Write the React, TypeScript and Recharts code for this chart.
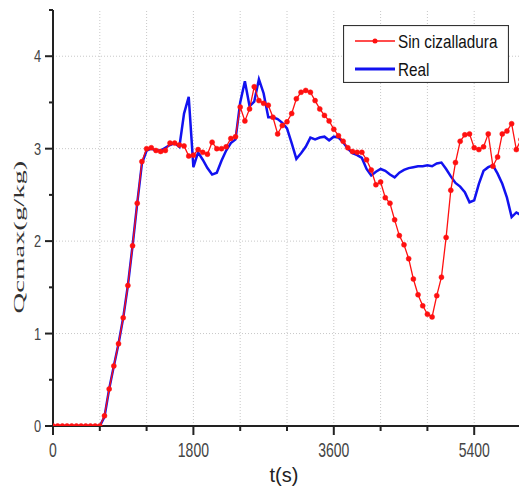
import React from 'react';
import { LineChart, Line, XAxis, YAxis, ReferenceLine, Legend } from 'recharts';

const times = [
  0, 60, 120, 180, 240, 300, 360, 420, 480, 540,
  600, 660, 720, 780, 840, 900, 960, 1020, 1080, 1140,
  1200, 1260, 1320, 1380, 1440, 1500, 1560, 1620, 1680, 1740,
  1800, 1860, 1920, 1980, 2040, 2100, 2160, 2220, 2280, 2340,
  2400, 2460, 2520, 2580, 2640, 2700, 2760, 2820, 2880, 2940,
  3000, 3060, 3120, 3180, 3240, 3300, 3360, 3420, 3480, 3540,
  3600, 3660, 3720, 3780, 3840, 3900, 3960, 4020, 4080, 4140,
  4200, 4260, 4320, 4380, 4440, 4500, 4560, 4620, 4680, 4740,
  4800, 4860, 4920, 4980, 5040, 5100, 5160, 5220, 5280, 5340,
  5400, 5460, 5520, 5580, 5640, 5700, 5760, 5820, 5880, 5940,
  6000,
];

const sinCizalladura = [
  0, 0, 0, 0, 0, 0, 0, 0, 0, 0,
  0, 0.11, 0.40, 0.65, 0.89, 1.17, 1.52, 1.95, 2.41, 2.86,
  3.00, 3.01, 2.98, 2.97, 2.98, 3.06, 3.06, 3.04, 3.03, 2.92,
  2.93, 2.99, 2.96, 2.94, 3.07, 3.00, 3.00, 3.02, 3.11, 3.13,
  3.45, 3.30, 3.43, 3.67, 3.52, 3.49, 3.47, 3.34, 3.16, 3.25,
  3.29, 3.38, 3.54, 3.61, 3.63, 3.61, 3.52, 3.43, 3.36, 3.30,
  3.21, 3.14, 3.08, 3.01, 2.97, 2.96, 2.96, 2.88, 2.77, 2.61,
  2.64, 2.47, 2.41, 2.23, 2.06, 1.96, 1.81, 1.59, 1.42, 1.30,
  1.21, 1.18, 1.41, 1.61, 2.04, 2.55, 2.85, 3.08, 3.15, 3.16,
  3.01, 2.99, 3.02, 3.16, 2.81, 2.91, 3.16, 3.19, 3.27, 2.99,
  3.10,
];

const real = [
  0, 0, 0, 0, 0, 0, 0, 0, 0, 0,
  0, 0.10, 0.40, 0.65, 0.89, 1.17, 1.52, 1.95, 2.41, 2.84,
  2.98, 3.00, 2.98, 2.98, 3.01, 3.04, 3.06, 3.02, 3.38, 3.56,
  2.80, 2.96, 2.88, 2.79, 2.72, 2.74, 2.87, 2.98, 3.06, 3.10,
  3.50, 3.73, 3.46, 3.51, 3.75, 3.60, 3.34, 3.34, 3.32, 3.28,
  3.22, 3.06, 2.89, 2.95, 3.02, 3.12, 3.10, 3.12, 3.13, 3.09,
  3.13, 3.12, 3.07, 3.00, 2.95, 2.93, 2.90, 2.78, 2.71, 2.75,
  2.78, 2.76, 2.72, 2.69, 2.74, 2.77, 2.79, 2.80, 2.81, 2.81,
  2.82, 2.81, 2.84, 2.85, 2.78, 2.70, 2.63, 2.59, 2.53, 2.42,
  2.44, 2.62, 2.76, 2.80, 2.82, 2.73, 2.62, 2.47, 2.26, 2.31,
  2.28,
];

const xTicks = [0, 600, 1200, 1800, 2400, 3000, 3600, 4200, 4800, 5400, 6000];
const xLabelTicks = [0, 1800, 3600, 5400];
const yTicks = [0, 0.5, 1, 1.5, 2, 2.5, 3, 3.5, 4, 4.5];
const yLabelTicks = [0, 1, 2, 3, 4];
const gridX = [600, 1200, 1800, 2400, 3000, 3600, 4200, 4800, 5400];
const gridY = [1, 2, 3, 4];

const data = times.map((t, i) => ({ t, sin: sinCizalladura[i], real: real[i] }));

const AXIS = '#222';
const SANS = 'Liberation Sans, Arial, sans-serif';
const RED = '#ff1010';
const BLUE = '#1212f0';

const BottomTick = (p: any) => {
  const { x, y, payload } = p;
  const v = payload.value;
  const major = xLabelTicks.includes(v);
  return (
    <g>
      <line x1={x} x2={x} y1={y} y2={y + (major ? 9 : 5)} stroke={AXIS} strokeWidth={2} />
      {major && (
        <text transform={`translate(${x},${y + 31}) scale(0.7,1)`} textAnchor="middle" fontSize={20} fill="#444" fontFamily={SANS}>
          {v}
        </text>
      )}
    </g>
  );
};

const TopTick = (p: any) => {
  const { x, y, payload } = p;
  const major = xLabelTicks.includes(payload.value);
  return <line x1={x} x2={x} y1={y} y2={y + (major ? 10 : 5)} stroke={AXIS} strokeWidth={2} />;
};

const LeftTick = (p: any) => {
  const { x, y, payload } = p;
  const v = payload.value;
  const major = yLabelTicks.includes(v);
  return (
    <g>
      <line x1={x - (major ? 8 : 4)} x2={x} y1={y} y2={y} stroke={AXIS} strokeWidth={2} />
      {major && (
        <text transform={`translate(${x - 12},${y + 6}) scale(0.8,1)`} textAnchor="end" fontSize={16} fill="#444" fontFamily={SANS}>
          {v}
        </text>
      )}
    </g>
  );
};

const RightTick = (p: any) => {
  const { x, y, payload } = p;
  const major = yLabelTicks.includes(payload.value);
  return <line x1={x - (major ? 8 : 4)} x2={x} y1={y} y2={y} stroke={AXIS} strokeWidth={2} />;
};

const LegendBox = () => (
  <svg width={166} height={58} style={{ display: 'block' }}>
    <rect x={0.5} y={0.5} width={165} height={57} fill="#fff" stroke="#333" strokeWidth={1.2} />
    <line x1={12} x2={52} y1={16} y2={16} stroke={RED} strokeWidth={1.5} />
    <circle cx={32} cy={16} r={2.5} fill={RED} />
    <text transform="translate(55,23) scale(0.85,1)" fontSize={18} fill="#111" fontFamily={SANS}>
      Sin cizalladura
    </text>
    <line x1={12} x2={52} y1={44} y2={44} stroke={BLUE} strokeWidth={3} />
    <text transform="translate(55,51) scale(0.85,1)" fontSize={18} fill="#111" fontFamily={SANS}>
      Real
    </text>
  </svg>
);

const XLabel = (p: any) => {
  const vb = p.viewBox || { x: 53, y: 426, width: 468 };
  return (
    <text x={vb.x + vb.width / 2 - 3} y={vb.y + 56} textAnchor="middle" fontSize={20} fill="#222" fontFamily={SANS}>
      t(s)
    </text>
  );
};

const YLabel = () => (
  <text
    transform="translate(23.5,237) rotate(-90) scale(1.85,1)"
    textAnchor="middle"
    fontSize={15.5}
    fill="#333"
    fontFamily="Liberation Serif, Times New Roman, serif"
  >
    Qcmax(g/kg)
  </text>
);

export default function App() {
  return (
    <div style={{ position: 'absolute', left: 0, top: 0, width: 519, height: 487, overflow: 'hidden', background: '#fff' }}>
      <LineChart width={540} height={487} data={data} margin={{ top: 10, right: 19, left: 0, bottom: 31 }}>
        {gridX.map((g) => (
          <ReferenceLine key={`gx${g}`} x={g} stroke="#c8c8c8" strokeDasharray="1 2" strokeWidth={1} />
        ))}
        {gridY.map((g) => (
          <ReferenceLine key={`gy${g}`} y={g} stroke="#c8c8c8" strokeDasharray="1 2" strokeWidth={1} />
        ))}
        <XAxis
          dataKey="t"
          type="number"
          domain={[0, 6000]}
          allowDataOverflow
          ticks={xTicks}
          interval={0}
          height={30}
          tickSize={0}
          tickMargin={0}
          tickLine={false}
          tick={BottomTick}
          axisLine={{ stroke: AXIS, strokeWidth: 2 }}
          label={{ content: XLabel }}
        />
        <XAxis
          xAxisId="top"
          orientation="top"
          dataKey="t"
          type="number"
          domain={[0, 6000]}
          allowDataOverflow
          ticks={xTicks}
          interval={0}
          height={0}
          tickSize={0}
          tickMargin={0}
          tickLine={false}
          tick={TopTick}
          axisLine={{ stroke: AXIS, strokeWidth: 2 }}
        />
        <YAxis
          type="number"
          domain={[0, 4.5]}
          allowDataOverflow
          ticks={yTicks}
          interval={0}
          width={53}
          tickSize={0}
          tickMargin={0}
          tickLine={false}
          tick={LeftTick}
          axisLine={{ stroke: AXIS, strokeWidth: 2 }}
          label={{ content: YLabel }}
        />
        <YAxis
          yAxisId="right"
          orientation="right"
          type="number"
          domain={[0, 4.5]}
          allowDataOverflow
          ticks={yTicks}
          interval={0}
          width={0}
          tickSize={0}
          tickMargin={0}
          tickLine={false}
          tick={RightTick}
          axisLine={{ stroke: AXIS, strokeWidth: 2 }}
        />
        <Line
          dataKey="real"
          stroke={BLUE}
          strokeWidth={2.5}
          dot={false}
          isAnimationActive={false}
          name="Real"
        />
        <Line
          dataKey="sin"
          stroke={RED}
          strokeWidth={1.3}
          dot={{ r: 2.5, fill: RED, stroke: RED, strokeWidth: 0.5 }}
          isAnimationActive={false}
          name="Sin cizalladura"
        />
        <Legend
          layout="vertical"
          align="center"
          verticalAlign="middle"
          wrapperStyle={{ position: 'absolute', left: 343, top: 25, width: 166, height: 58 }}
          content={() => <LegendBox />}
        />
      </LineChart>
    </div>
  );
}
